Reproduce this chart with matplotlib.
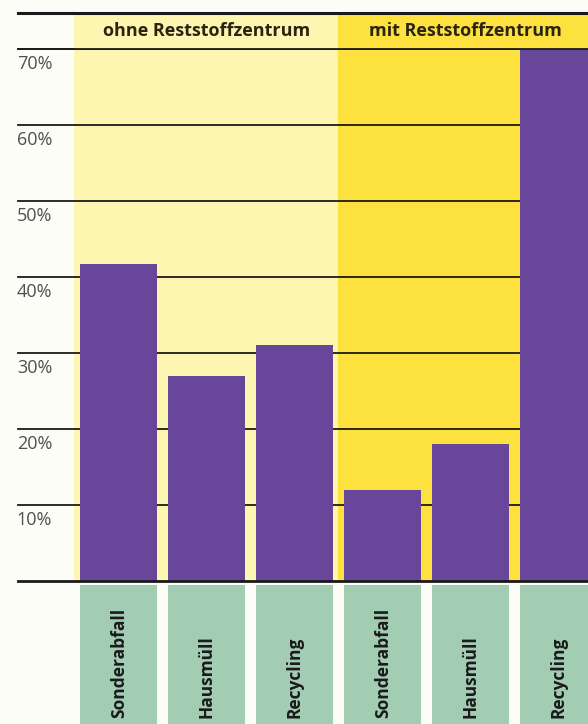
import matplotlib
matplotlib.use("Agg")
import matplotlib.pyplot as plt

# data
categories = ["Sonderabfall", "Hausmüll", "Recycling",
              "Sonderabfall", "Hausmüll", "Recycling"]
values = [41.7, 27, 31, 12, 18, 72]
groups = ["ohne Reststoffzentrum", "mit Reststoffzentrum"]
tick_values = [10, 20, 30, 40, 50, 60, 70]
tick_labels = ["10%", "20%", "30%", "40%", "50%", "60%", "70%"]

PURPLE = "#68479a"
GREEN = "#a2cdb3"
PALE = "#fdf6b0"
YELLOW = "#fde13e"
BG = "#fdfdf7"

plt.rcParams["font.family"] = ["Open Sans", "DejaVu Sans"]

fig = plt.figure(figsize=(5.88, 7.24), dpi=100, facecolor=BG)
ax = fig.add_axes([0, 0, 1, 1])
ax.set_facecolor(BG)
ax.set_xlim(-1.352, 5.33)
ax.set_ylim(-18.8, 76.45)
ax.axis("off")

top = 74.7
xs = list(range(len(values)))

# background bands (group areas)
ax.fill_between([-0.51, 2.49], 0, top, color=PALE, zorder=0, lw=0)
ax.fill_between([2.49, 5.4], 0, top, color=YELLOW, zorder=0, lw=0)

# grid lines
for v in tick_values:
    ax.plot([-1.15, 5.4], [v, v], color="#1a1a1a", lw=1.3, zorder=1)
for v, lab in zip(tick_values, tick_labels):
    ax.text(-1.16, v - 2.0, lab, ha="left", va="center", fontsize=13,
            color="#505050", zorder=5)

# bars
ax.bar(xs, values, width=0.875, color=PURPLE, zorder=2)

# header band over the top
ax.fill_between([-0.51, 2.49], 70, top, color=PALE, zorder=3, lw=0)
ax.fill_between([2.49, 5.4], 70, top, color=YELLOW, zorder=3, lw=0)
ax.plot([-1.15, 5.4], [70, 70], color="#1a1a1a", lw=1.3, zorder=4)
ax.plot([-1.15, 5.4], [top, top], color="#1a1a1a", lw=2.2, zorder=4)
ax.text(1.0, 72.4, groups[0], ha="center", va="center", fontsize=13,
        fontweight="bold", color="#2a2410", zorder=5)
ax.text(3.94, 72.4, groups[1], ha="center", va="center", fontsize=13,
        fontweight="bold", color="#2a2410", zorder=5)

# zero line
ax.plot([-1.15, 5.4], [0, 0], color="#1a1a1a", lw=2.0, zorder=4)

# green label boxes
ax.bar(xs, -18.8, bottom=-0.45, width=0.875, color=GREEN, zorder=2)
for x, c in zip(xs, categories):
    ax.text(x, -18.0, c, rotation=90, ha="center", va="bottom", fontsize=12.5,
            fontweight="bold", color="#1a1a1a", zorder=5)

fig.savefig("out.png", dpi=100, facecolor=BG)
